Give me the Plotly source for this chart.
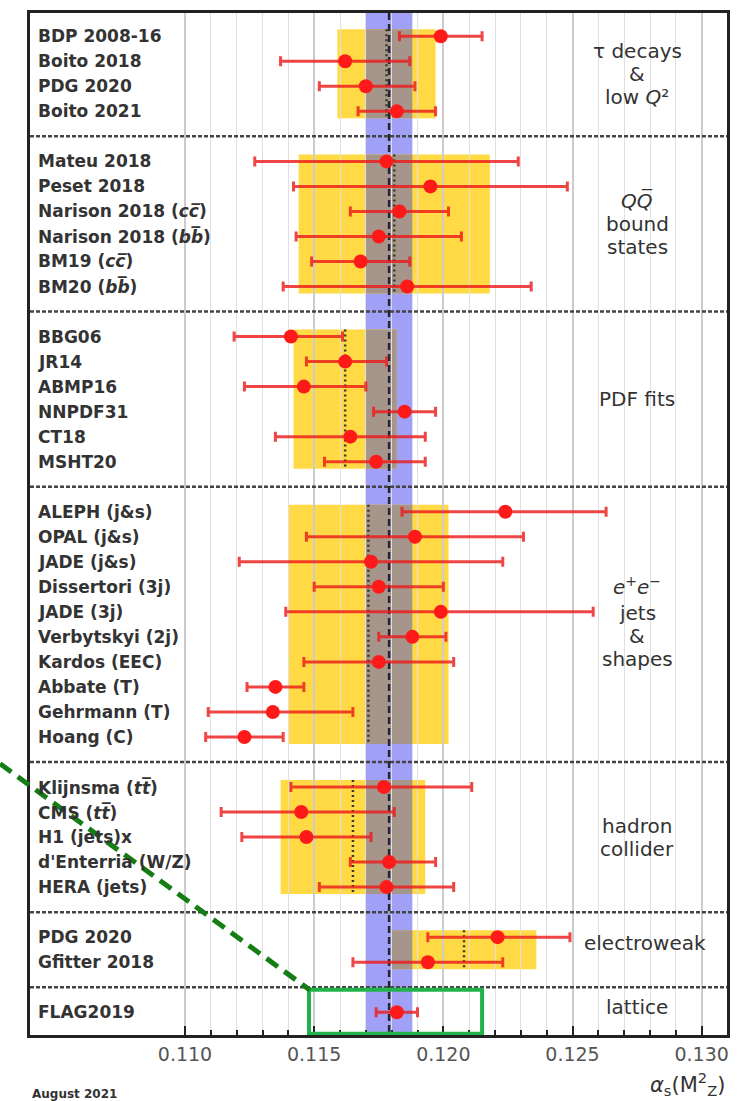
import numpy as np
import plotly.graph_objects as go

# ---------------------------------------------------------------------------
# alpha_s(M_Z^2) determinations, grouped by sub-field
# ---------------------------------------------------------------------------
group_names = [
    ["τ decays", "&", "low <i>Q</i>²"],
    ["<i>QQ̅</i>", "bound", "states"],
    ["PDF fits"],
    ["<i>e</i><sup>+</sup><i>e</i><sup>−</sup>", "jets", "&", "shapes"],
    ["hadron", "collider"],
    ["electroweak"],
    ["lattice"],
]
group_sizes = [4, 6, 6, 10, 5, 2, 1]

labels = [
    "BDP 2008-16", "Boito 2018", "PDG 2020", "Boito 2021",
    "Mateu 2018", "Peset 2018", "Narison 2018 (<i>cc̅</i>)", "Narison 2018 (<i>bb̅</i>)",
    "BM19 (<i>cc̅</i>)", "BM20 (<i>bb̅</i>)",
    "BBG06", "JR14", "ABMP16", "NNPDF31", "CT18", "MSHT20",
    "ALEPH (j&s)", "OPAL (j&s)", "JADE (j&s)", "Dissertori (3j)", "JADE (3j)",
    "Verbytskyi (2j)", "Kardos (EEC)", "Abbate (T)", "Gehrmann (T)", "Hoang (C)",
    "Klijnsma (<i>tt̅</i>)", "CMS (<i>tt̅</i>)", "H1 (jets)x", "d'Enterria (W/Z)", "HERA (jets)",
    "PDG 2020", "Gfitter 2018",
    "FLAG2019",
]
alpha_s = [
    0.1199, 0.1162, 0.1170, 0.1182,
    0.1178, 0.1195, 0.1183, 0.1175, 0.1168, 0.1186,
    0.1141, 0.1162, 0.1146, 0.1185, 0.1164, 0.1174,
    0.1224, 0.1189, 0.1172, 0.1175, 0.1199, 0.1188, 0.1175, 0.1135, 0.1134, 0.1123,
    0.1177, 0.1145, 0.1147, 0.1179, 0.1178,
    0.1221, 0.1194,
    0.1182,
]
err_minus = [
    0.0016, 0.0025, 0.0018, 0.0015,
    0.0051, 0.0053, 0.0019, 0.0032, 0.0019, 0.0048,
    0.0022, 0.0015, 0.0023, 0.0012, 0.0029, 0.0020,
    0.0040, 0.0042, 0.0051, 0.0025, 0.0060, 0.0013, 0.0029, 0.0011, 0.0025, 0.0015,
    0.0036, 0.0031, 0.0025, 0.0015, 0.0026,
    0.0027, 0.0029,
    0.0008,
]
err_plus = [
    0.0016, 0.0025, 0.0019, 0.0015,
    0.0051, 0.0053, 0.0019, 0.0032, 0.0019, 0.0048,
    0.0020, 0.0016, 0.0024, 0.0012, 0.0029, 0.0019,
    0.0039, 0.0042, 0.0051, 0.0025, 0.0059, 0.0013, 0.0029, 0.0011, 0.0031, 0.0015,
    0.0034, 0.0036, 0.0025, 0.0018, 0.0026,
    0.0028, 0.0029,
    0.0008,
]

# sub-field pre-averages (yellow boxes + dotted lines)
pre_avg = [0.1178, 0.1181, 0.1162, 0.1171, 0.1165, 0.1208, 0.1182]
pre_err = [0.0019, 0.0037, 0.0020, 0.0031, 0.0028, 0.0028, 0.0008]
show_box = [True, True, True, True, True, True, False]

world_avg = 0.1179
world_err = 0.0009

major_ticks = [0.110, 0.115, 0.120, 0.125, 0.130]
tick_text = ["0.110", "0.115", "0.120", "0.125", "0.130"]

X_RANGE = [0.1040, 0.13098]
Y_RANGE = [39.91, -0.93]

# ---------------------------------------------------------------------------
# row layout: one row per entry, one blank row between sub-fields
# ---------------------------------------------------------------------------
rows, group_rows, sep_rows = [], [], []
r = 0
for gi, n in enumerate(group_sizes):
    g = list(range(r, r + n))
    rows.extend(g)
    group_rows.append(g)
    r += n
    if gi < len(group_sizes) - 1:
        sep_rows.append(r)
        r += 1

YELLOW = "#ffda45"
GRAY = "#a6958a"
BLUE = "#a0a0f6"
RED = "#ff1a1a"
TXT = "#333333"

fig = go.Figure()


def vline(x, y0, y1, color, width, dash):
    fig.add_trace(go.Scatter(x=[x, x], y=[y0, y1], mode="lines",
                             line=dict(color=color, width=width, dash=dash),
                             hoverinfo="skip", showlegend=False))


shapes = []
# world-average band over the full height
shapes.append(dict(type="rect", xref="x", yref="y domain",
                   x0=world_avg - world_err, x1=world_avg + world_err, y0=0, y1=1,
                   fillcolor=BLUE, line=dict(width=0), layer="below"))

pad = 0.28
for gi, g in enumerate(group_rows):
    if not show_box[gi]:
        continue
    lo, hi = pre_avg[gi] - pre_err[gi], pre_avg[gi] + pre_err[gi]
    y0, y1 = g[0] - pad, g[-1] + pad
    shapes.append(dict(type="rect", xref="x", yref="y", x0=lo, x1=hi, y0=y0, y1=y1,
                       fillcolor=YELLOW, line=dict(width=0), layer="below"))
    glo = max(lo, world_avg - world_err)
    ghi = min(hi, world_avg + world_err)
    if ghi > glo:
        shapes.append(dict(type="rect", xref="x", yref="y", x0=glo, x1=ghi, y0=y0, y1=y1,
                           fillcolor=GRAY, line=dict(width=0), layer="below"))
    # dotted pre-average line
    vline(pre_avg[gi], y0, y1, "#3a3a22", 2.5, "2px,3px")

# world-average central value
vline(world_avg, Y_RANGE[1], Y_RANGE[0], "#26263a", 2.5, "7px,4px")

# sub-field separators
for s in sep_rows:
    fig.add_trace(go.Scatter(x=X_RANGE, y=[s, s], mode="lines",
                             line=dict(color="#444444", width=2.5, dash="4px,2px"),
                             hoverinfo="skip", showlegend=False))

# measurements
fig.add_trace(go.Scatter(
    x=alpha_s, y=rows, mode="markers",
    marker=dict(color=RED, size=14, line=dict(width=0)),
    error_x=dict(type="data", symmetric=False, array=err_plus, arrayminus=err_minus,
                 color="rgba(236,28,28,0.82)", thickness=3, width=5),
    hoverinfo="skip", showlegend=False,
))

# highlight box on the lattice entry with a leader line
shapes.append(dict(type="rect", xref="x", yref="y", x0=0.1148, x1=0.1215,
                   y0=group_rows[-1][0] - 0.9, y1=group_rows[-1][0] + 0.86,
                   line=dict(color="#22b24c", width=4), fillcolor="rgba(0,0,0,0)",
                   layer="above"))
shapes.append(dict(type="line", xref="paper", yref="paper", x0=-0.043, y0=0.2654,
                   x1=0.4017, y1=0.0439,
                   line=dict(color="#147d14", width=5, dash="14px,8px"), layer="above"))

annotations = []
for lab, yr in zip(labels, rows):
    annotations.append(dict(x=0.009, xref="paper", y=yr, yref="y", text=lab,
                            showarrow=False, xanchor="left", yanchor="middle",
                            font=dict(family="DejaVu Sans", size=17, color=TXT, weight="bold")))

line_step = 0.92
for gi, g in enumerate(group_rows):
    lines = group_names[gi]
    centre = (g[0] + g[-1]) / 2.0
    xc = 0.1275
    if gi == 5:
        centre -= 0.25
        xc = 0.1278
    elif gi == 6:
        centre -= 0.2
    n = len(lines)
    for li, t in enumerate(lines):
        yy = centre + (li - (n - 1) / 2.0) * line_step
        if "<sup>" in t:
            yy -= 0.15
        annotations.append(dict(x=xc, xref="x", y=yy, yref="y", text=t, showarrow=False,
                                xanchor="center", yanchor="middle",
                                font=dict(family="DejaVu Sans", size=20, color=TXT)))

annotations.append(dict(x=1.0, xref="paper", y=-0.0475, yref="paper",
                        text="<i>α</i><sub>s</sub>(M<sup>2</sup><sub>Z</sub>)",
                        showarrow=False, xanchor="right", yanchor="middle",
                        font=dict(family="DejaVu Sans", size=21, color=TXT)))
annotations.append(dict(x=0.0, xref="paper", y=-0.0575, yref="paper", text="August 2021",
                        showarrow=False, xanchor="left", yanchor="middle",
                        font=dict(family="DejaVu Sans", size=12, color=TXT, weight="bold")))

minor_vals = [round(v, 3) for v in np.arange(0.110, 0.1305, 0.001)
              if round(v, 3) not in major_ticks]

fig.update_layout(
    width=749, height=1101,
    margin=dict(l=30, r=22, t=10, b=66),
    plot_bgcolor="white", paper_bgcolor="white",
    showlegend=False,
    shapes=shapes, annotations=annotations,
    xaxis=dict(
        range=X_RANGE, tickmode="array", tickvals=major_ticks, ticktext=tick_text,
        ticks="inside", ticklen=9, tickwidth=2, tickcolor="#222",
        showgrid=True, gridcolor="#cccccc", gridwidth=2,
        minor=dict(tickmode="array", tickvals=minor_vals, ticks="inside", ticklen=5,
                   tickwidth=1.5, tickcolor="#222", showgrid=True, gridcolor="#e0e0e0",
                   gridwidth=1),
        showline=True, linecolor="#222", linewidth=3, mirror=True, zeroline=False,
        tickfont=dict(family="DejaVu Sans", size=19, color="#555"),
    ),
    yaxis=dict(
        range=Y_RANGE, showgrid=False, showticklabels=False, ticks="",
        zeroline=False, showline=True, linecolor="#222", linewidth=3, mirror=True,
    ),
)

fig.write_html("out.html")
